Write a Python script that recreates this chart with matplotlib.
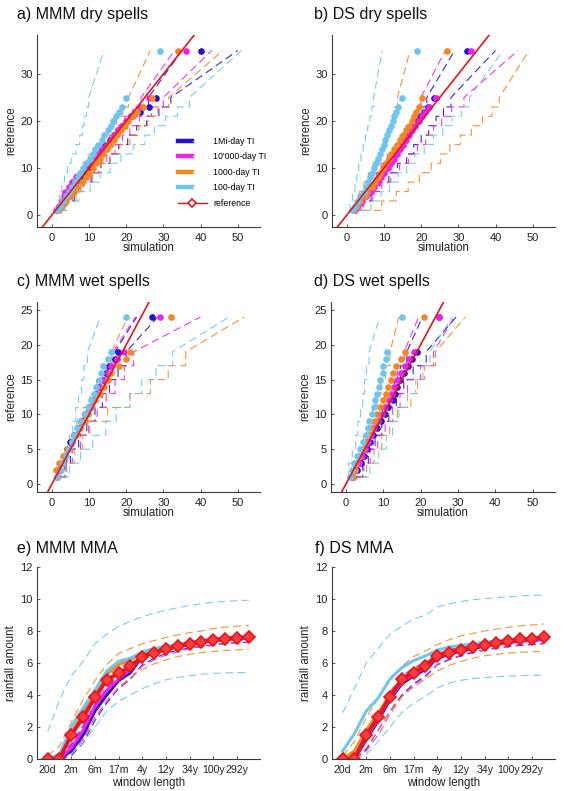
import matplotlib.pyplot as plt
from matplotlib.lines import Line2D
from matplotlib.legend_handler import HandlerTuple

plt.rcParams['font.family'] = ['Liberation Sans', 'DejaVu Sans']

# colours of the four time-integration runs + reference
col = {'1mi': '#2410d2', '10k': '#f021ee', '1k': '#f5871f', '100': '#6cc6f0'}
red = '#e4161c'
order = ['1mi', '10k', '1k', '100']
names = {'1mi': '1Mi-day TI', '10k': "10'000-day TI", '1k': '1000-day TI', '100': '100-day TI'}

# ---------------- spell-length quantiles (reference levels) ----------------
dry_levels = list(range(1, 24)) + [25, 35]
dry_bnd_levels = [1, 3, 5, 7, 9, 11, 13, 15, 17, 19, 21, 23, 25, 35]
wet_levels = list(range(1, 20)) + [24]
wet_bnd_levels = [1, 3, 5, 7, 9, 11, 13, 15, 17, 19, 24]

# a) MMM dry spells: simulated quantiles
a_sim = {
    '1mi': [1.5, 2.4, 3.3, 4.2, 4.9, 5.6, 6.6, 7.6, 8.6, 9.6, 10.6, 11.6, 12.6, 13.6, 14.6, 15.6, 16.7, 17.8, 19.0, 20.2, 21.4, 23.8, 26.0, 28.0, 40.0],
    '10k': [1.2, 2.0, 2.8, 3.2, 3.6, 4.6, 5.4, 6.6, 7.8, 9.0, 10.2, 11.4, 12.6, 13.7, 14.8, 15.8, 16.8, 17.8, 19.0, 20.0, 21.2, 22.4, 23.6, 26.0, 36.0],
    '1k': [1.8, 2.8, 3.9, 5.0, 6.0, 7.0, 8.2, 9.1, 10.0, 11.0, 12.0, 12.9, 13.8, 14.8, 15.7, 16.6, 17.5, 18.6, 19.6, 20.6, 21.8, 22.8, 24.5, 27.0, 34.0],
    '100': [1.3, 2.1, 2.9, 3.8, 4.6, 5.3, 6.1, 7.0, 7.7, 8.5, 9.3, 10.2, 11.0, 11.7, 12.5, 13.4, 14.1, 15.0, 15.8, 16.5, 17.2, 18.0, 18.8, 20.0, 29.0],
}
a_lo = {
    '1mi': [1, 2.5, 4, 6, 8, 10, 12, 14, 16.2, 18.4, 20.6, 23, 26, 35],
    '10k': [1, 2.4, 3.8, 5.7, 7.5, 9.5, 11.5, 13.5, 15.5, 17.5, 19.6, 21.8, 24, 33],
    '1k': [1, 2.2, 3.5, 4.9, 6.3, 8, 10, 12, 13.9, 15.6, 17.4, 19.1, 20.6, 26.5],
    '100': [0.8, 1.4, 2.0, 2.7, 3.4, 4.2, 5.2, 6.5, 7.5, 8.2, 8.7, 9.3, 9.9, 14],
}
a_hi = {
    '1mi': [1.5, 3.8, 6, 8.4, 10.8, 13.2, 15.6, 18, 20.4, 22.8, 25.5, 28.8, 32, 50],
    '10k': [1.5, 3.5, 5.5, 7.9, 10.3, 12.6, 14.8, 17, 19, 21, 23.6, 26.8, 30, 43],
    '1k': [2, 4.2, 6.5, 8.7, 10.9, 13.2, 15.6, 18.3, 21, 23.4, 25.8, 28.5, 31.4, 46],
    '100': [2, 4, 7.3, 10.3, 13, 15.7, 18.6, 21.9, 25, 27.6, 30.6, 33.8, 37, 51],
}

# b) DS dry spells
b_sim = {
    '1mi': [2.0, 2.8, 3.8, 5.0, 6.2, 7.0, 8.0, 8.8, 9.6, 10.6, 11.5, 12.4, 13.2, 14.0, 14.9, 15.7, 16.5, 17.3, 18.1, 19.0, 19.8, 20.7, 21.7, 23.4, 32.2],
    '10k': [2.2, 3.0, 4.0, 5.2, 6.5, 7.3, 8.3, 9.2, 10.0, 11.0, 11.8, 12.7, 13.5, 14.3, 15.2, 16.0, 16.8, 17.6, 18.4, 19.3, 20.1, 21.0, 22.0, 24.1, 33.5],
    '1k': [2.0, 2.8, 3.6, 4.8, 5.5, 6.8, 7.5, 8.3, 9.0, 9.8, 10.6, 11.3, 12.0, 12.8, 13.6, 14.3, 15.0, 15.8, 16.6, 17.4, 18.0, 18.7, 19.5, 20.2, 27.0],
    '100': [1.5, 2.2, 3.0, 3.6, 4.6, 5.2, 5.8, 6.3, 6.8, 7.3, 7.8, 8.4, 9.0, 9.5, 9.9, 10.3, 10.8, 11.3, 11.8, 12.3, 12.6, 13.1, 13.8, 14.8, 19.0],
}
b_lo = {
    '1mi': [1, 2.7, 4.5, 6.3, 8.1, 9.8, 11.7, 13.5, 15.0, 16.7, 18.3, 20, 21.5, 29],
    '10k': [1, 2.5, 4, 5.7, 7.4, 9.2, 10.9, 12.6, 14.3, 15.9, 17.6, 18.8, 19.9, 26.5],
    '1k': [1, 2.1, 3.4, 4.6, 5.8, 7.0, 8.2, 9.4, 10.3, 11.1, 12.0, 12.8, 13.6, 17],
    '100': [0.5, 0.9, 1.5, 2.2, 2.7, 3.2, 3.8, 4.4, 5.0, 5.6, 6.2, 6.7, 7.2, 9.5],
}
b_hi = {
    '1mi': [2, 4.3, 6.5, 8.9, 11.3, 13.6, 16.1, 18, 20, 22, 24, 26, 28, 40],
    '10k': [2, 4.5, 7, 9.4, 11.8, 14.2, 16.6, 19, 21.2, 23.3, 25.5, 28.2, 31.5, 46],
    '1k': [4, 9.4, 13.3, 16.5, 19.5, 22.7, 25.2, 27.7, 30.5, 33.5, 36.5, 39, 41, 49],
    '100': [3, 6.5, 9.2, 11.5, 13.8, 16.1, 18.3, 20.8, 23.3, 25.8, 28.3, 30.8, 33, 42],
}

# c) MMM wet spells
c_sim = {
    '1mi': [1.4, 2.2, 3.0, 3.5, 4.0, 5.0, 6.0, 7.0, 8.0, 9.0, 10.0, 11.0, 12.0, 12.8, 13.8, 14.6, 15.5, 16.9, 17.8, 27.0],
    '10k': [1.3, 2.0, 2.8, 3.6, 4.5, 5.3, 6.2, 7.0, 8.0, 9.0, 10.0, 11.0, 12.0, 13.0, 14.0, 15.0, 16.0, 17.5, 19.5, 29.0],
    '1k': [1.5, 1.0, 2.0, 3.0, 4.0, 5.5, 6.5, 7.5, 8.8, 9.8, 10.5, 11.5, 13.0, 14.0, 15.0, 15.8, 18.0, 20.0, 21.0, 32.0],
    '100': [1.5, 2.5, 3.0, 3.8, 4.6, 5.3, 6.0, 6.8, 7.6, 8.8, 9.8, 10.5, 11.3, 12.0, 12.6, 13.2, 13.8, 15.0, 16.0, 20.0],
}
c_lo = {
    '1mi': [0.8, 2.4, 4, 5.8, 7.6, 9.4, 11.2, 13, 15, 17, 22.8],
    '10k': [0.8, 2.4, 4, 5.8, 7.6, 9.4, 11.2, 13, 14.8, 16.5, 22.5],
    '1k': [0.5, 2.0, 3.5, 5.1, 6.7, 8.4, 10.2, 12.0, 14.3, 16.1, 20.4],
    '100': [0.8, 1.5, 3.2, 4.7, 5.6, 6.4, 7.2, 8.0, 8.6, 9.6, 13],
}
c_hi = {
    '1mi': [2, 3.5, 5, 7.2, 9.4, 11.6, 13.6, 15.5, 17.8, 20, 28.5],
    '10k': [2, 3.8, 5.5, 7.7, 9.9, 12.2, 14.6, 17, 19.5, 22, 40],
    '1k': [2, 4, 6, 8.2, 10.2, 15, 21, 26.5, 31.3, 36, 51.8],
    '100': [2.5, 4.8, 7.7, 11, 14.5, 17.3, 21, 24.2, 28, 32.5, 47.7],
}

# d) DS wet spells
d_sim = {
    '1mi': [2.0, 3.0, 4.0, 4.9, 5.6, 6.4, 7.2, 8.2, 9.3, 10.5, 11.3, 12.5, 13.2, 13.8, 14.6, 15.5, 16.5, 17.8, 19.1, 25.0],
    '10k': [1.6, 2.5, 3.4, 4.3, 5.0, 5.9, 6.7, 7.6, 8.6, 9.6, 10.5, 11.6, 12.3, 13.0, 13.8, 14.8, 15.8, 17.0, 18.3, 25.0],
    '1k': [2.0, 2.3, 2.8, 3.6, 4.5, 5.2, 6.1, 6.8, 7.7, 8.3, 9.2, 9.8, 10.7, 11.3, 12.0, 12.7, 13.5, 14.8, 15.8, 21.0],
    '100': [1.0, 1.5, 2.2, 3.0, 3.8, 4.6, 5.3, 6.0, 6.3, 7.0, 7.4, 7.8, 8.3, 8.8, 9.2, 9.8, 10.0, 10.8, 11.0, 15.0],
}
d_lo = {
    '1mi': [1, 2.8, 4.5, 6.3, 8.1, 9.8, 11.4, 13, 14.6, 16.3, 20.5],
    '10k': [1, 2.5, 4, 5.6, 7.2, 8.8, 10.4, 12, 13.8, 15.6, 19.5],
    '1k': [0.8, 2.1, 3.5, 4.7, 5.9, 7.1, 8.3, 9.5, 10.6, 11.8, 14.2],
    '100': [0.3, 0.7, 1.7, 2.6, 3.2, 3.9, 4.5, 5.0, 5.5, 6.2, 9],
}
d_hi = {
    '1mi': [3, 4.5, 6, 7.8, 9.6, 11.5, 13.5, 15.5, 18, 21.5, 29.5],
    '10k': [3, 4.8, 6.5, 8.5, 10.5, 12.5, 14.5, 16.5, 20, 23.5, 29],
    '1k': [3.5, 5.5, 7.5, 9.6, 11.7, 13.8, 17.4, 19.2, 21, 24, 32],
    '100': [4, 6.4, 8.8, 10.8, 12.5, 14.2, 16.5, 18.7, 20.6, 22.5, 28.5],
}

# ---------------- maximum moving average (MMA) ----------------
window_ticks = ['20d', '2m', '6m', '17m', '4y', '12y', '34y', '100y', '292y']

e_ref = [0, 0, 1.5, 2.6, 3.85, 4.95, 5.35, 5.8, 6.4, 6.65, 6.85, 7.05, 7.2, 7.32, 7.42, 7.5, 7.55, 7.6]
e_mean = {
    '1mi': [0, 0, 0.5, 1.5, 3.0, 4.0, 4.9, 5.4, 6.4, 6.7, 6.9, 7.05, 7.2, 7.3, 7.4, 7.45, 7.5, 7.55],
    '10k': [0, 0, 0.7, 1.8, 3.3, 4.3, 5.0, 5.6, 6.4, 6.7, 6.9, 7.05, 7.2, 7.3, 7.4, 7.48, 7.52, 7.55],
    '1k': [0, 0.1, 1.6, 2.9, 4.2, 5.3, 5.9, 6.2, 6.6, 6.8, 6.95, 7.1, 7.2, 7.3, 7.4, 7.45, 7.5, 7.55],
    '100': [0, 0.3, 2.0, 3.2, 4.3, 5.5, 6.1, 6.3, 6.7, 6.9, 7.05, 7.15, 7.25, 7.35, 7.42, 7.48, 7.52, 7.55],
}
e_lo = {
    '1mi': [0, 0, 0.2, 1.0, 2.4, 3.5, 4.4, 5.0, 5.9, 6.3, 6.6, 6.8, 6.95, 7.05, 7.15, 7.22, 7.28, 7.3],
    '10k': [0, 0, 0.3, 1.2, 2.6, 3.6, 4.4, 5.0, 5.8, 6.2, 6.5, 6.7, 6.9, 7.0, 7.1, 7.2, 7.25, 7.3],
    '1k': [0, 0, 0.3, 1.3, 2.6, 3.7, 4.5, 5.1, 5.6, 5.95, 6.2, 6.4, 6.55, 6.65, 6.72, 6.78, 6.82, 6.85],
    '100': [0, 0, 0.3, 1.0, 2.0, 3.0, 3.6, 4.0, 4.4, 4.7, 4.95, 5.1, 5.2, 5.3, 5.35, 5.38, 5.4, 5.4],
}
e_hi = {
    '1mi': [0, 0.1, 0.9, 2.0, 3.4, 4.4, 5.2, 5.7, 6.5, 6.8, 7.0, 7.15, 7.3, 7.4, 7.5, 7.55, 7.6, 7.65],
    '10k': [0, 0.1, 1.0, 2.1, 3.5, 4.6, 5.3, 5.8, 6.5, 6.8, 7.0, 7.2, 7.35, 7.45, 7.55, 7.62, 7.68, 7.7],
    '1k': [0.2, 0.8, 2.3, 3.7, 4.9, 5.9, 6.6, 6.9, 7.2, 7.4, 7.6, 7.75, 7.9, 8.0, 8.15, 8.25, 8.3, 8.35],
    '100': [1.7, 3.7, 5.2, 6.1, 7.2, 7.8, 8.3, 8.6, 8.9, 9.1, 9.3, 9.45, 9.6, 9.7, 9.8, 9.85, 9.9, 9.92],
}

f_ref = [0, 0, 1.5, 2.6, 3.9, 5.0, 5.4, 5.8, 6.45, 6.65, 6.83, 6.97, 7.15, 7.28, 7.38, 7.47, 7.53, 7.6]
f_mean = {
    '1mi': [0, 0, 1.2, 2.4, 3.7, 4.7, 5.2, 5.6, 6.3, 6.55, 6.75, 6.9, 7.05, 7.18, 7.28, 7.36, 7.42, 7.46],
    '10k': [0, 0, 1.3, 2.5, 3.8, 4.8, 5.3, 5.7, 6.35, 6.6, 6.8, 6.95, 7.1, 7.22, 7.32, 7.4, 7.45, 7.48],
    '1k': [0, 0.5, 1.8, 2.9, 4.0, 5.0, 5.5, 5.9, 6.5, 6.7, 6.85, 7.0, 7.15, 7.28, 7.38, 7.46, 7.52, 7.56],
    '100': [0.5, 1.6, 3.0, 3.8, 5.0, 5.7, 6.15, 6.45, 6.8, 7.0, 7.1, 7.2, 7.3, 7.38, 7.45, 7.5, 7.53, 7.55],
}
f_lo = {
    '1mi': [0, 0, 0.6, 1.8, 3.0, 4.0, 4.7, 5.2, 5.9, 6.2, 6.45, 6.65, 6.8, 6.92, 7.02, 7.1, 7.15, 7.2],
    '10k': [0, 0, 0.5, 1.5, 2.8, 3.9, 4.6, 5.1, 5.9, 6.25, 6.5, 6.7, 6.85, 6.98, 7.08, 7.15, 7.2, 7.23],
    '1k': [0, 0, 0.7, 1.8, 3.0, 3.9, 4.5, 5.0, 5.5, 5.85, 6.1, 6.3, 6.45, 6.55, 6.62, 6.67, 6.7, 6.72],
    '100': [0, 0, 0.3, 1.1, 2.0, 2.9, 3.5, 3.9, 4.45, 4.75, 4.92, 5.02, 5.09, 5.14, 5.18, 5.21, 5.23, 5.24],
}
f_hi = {
    '1mi': [0, 0.1, 1.5, 2.8, 4.1, 5.1, 5.6, 6.0, 6.55, 6.8, 6.95, 7.1, 7.22, 7.32, 7.42, 7.48, 7.52, 7.55],
    '10k': [0, 0.2, 1.6, 2.9, 4.2, 5.2, 5.7, 6.0, 6.6, 6.85, 7.0, 7.15, 7.28, 7.38, 7.46, 7.52, 7.56, 7.6],
    '1k': [0.2, 1.1, 2.6, 3.8, 5.0, 5.8, 6.4, 6.75, 7.15, 7.45, 7.7, 7.85, 8.0, 8.12, 8.23, 8.32, 8.38, 8.44],
    '100': [2.9, 4.4, 6.0, 6.9, 7.8, 8.3, 8.75, 9.0, 9.5, 9.7, 9.85, 9.95, 10.02, 10.08, 10.14, 10.2, 10.23, 10.25],
}

dash = (0, (7, 4))


def stairs(sim, ref):
    # quantile bounds are flat within one reference level, then jump up
    xs, ys = [sim[0]], [ref[0]]
    for i in range(1, len(ref)):
        if ref[i] - ref[i - 1] <= 2:
            xs.append(sim[i])
            ys.append(ref[i - 1])
        xs.append(sim[i])
        ys.append(ref[i])
    return xs, ys


def style(ax, xlabel, ylabel, xlab_y, xtick_size=8):
    for s in ['top', 'right']:
        ax.spines[s].set_visible(False)
    for s in ['left', 'bottom']:
        ax.spines[s].set_color('#3a3a3a')
        ax.spines[s].set_linewidth(0.8)
    ax.tick_params(direction='in', length=2.5, width=0.6, labelsize=8,
                   colors='#3a3a3a', labelcolor='#222222')
    ax.tick_params(axis='x', pad=4, labelsize=xtick_size)
    ax.tick_params(axis='y', pad=3)
    ax.set_xlabel(xlabel, fontsize=8.3, color='#222222')
    ax.set_ylabel(ylabel, fontsize=8.3, color='#222222')
    ax.xaxis.set_label_coords(0.5, xlab_y)
    ax.yaxis.set_label_coords(-0.088, 0.5)


def spell_panel(ax, levels, sims, bnd_levels, lo, hi, ylim, yticks, xlab_y):
    for k in order:
        for b in (lo[k], hi[k]):
            xs, ys = stairs(b, bnd_levels)
            ax.plot(xs, ys, ls=dash, lw=0.8, color=col[k], alpha=0.9)
    for k in order:
        ax.plot(sims[k], levels, 'o', ms=4.8, color=col[k], mec='none')
    ax.axline((0, 0), slope=1, color=red, lw=1.2)
    ax.set_xlim(-4, 56)
    ax.set_ylim(*ylim)
    ax.set_xticks([0, 10, 20, 30, 40, 50])
    ax.set_yticks(yticks)
    style(ax, 'simulation', 'reference', xlab_y)


def mma_panel(ax, ref, mean, lo, hi):
    x = list(range(len(ref)))
    for k in order:
        ax.plot(x, lo[k], ls=dash, lw=0.8, color=col[k], alpha=0.9)
        ax.plot(x, hi[k], ls=dash, lw=0.8, color=col[k], alpha=0.9)
    for k in order:
        ax.plot(x, mean[k], '-', lw=2.2, color=col[k])
    ax.plot(x, ref, '-D', lw=2.8, ms=6.3, color=red, mfc='#ff3c3c', mec=red, mew=1.2)
    ax.set_xlim(-0.9, 17.95)
    ax.set_ylim(0, 12)
    ax.set_xticks(x[::2])
    ax.set_xticklabels(window_ticks)
    ax.set_yticks([0, 2, 4, 6, 8, 10, 12])
    style(ax, 'window length', 'rainfall amount', -0.094, xtick_size=7.6)


W, H = 564, 791
fig = plt.figure(figsize=(W / 100, H / 100), dpi=100)


def add_ax(left, top, right, bottom):
    return fig.add_axes([left / W, 1 - bottom / H, (right - left) / W, (bottom - top) / H])


ax_a = add_ax(37, 35, 260, 227)
ax_b = add_ax(332, 35, 555, 227)
ax_c = add_ax(37, 302, 260, 492)
ax_d = add_ax(331, 302, 555, 492)
ax_e = add_ax(37, 567, 260, 759)
ax_f = add_ax(332, 567, 555, 759)

spell_panel(ax_a, dry_levels, a_sim, dry_bnd_levels, a_lo, a_hi, (-2.55, 38.3), [0, 10, 20, 30], -0.08)
spell_panel(ax_b, dry_levels, b_sim, dry_bnd_levels, b_lo, b_hi, (-2.55, 38.3), [0, 10, 20, 30], -0.08)
spell_panel(ax_c, wet_levels, c_sim, wet_bnd_levels, c_lo, c_hi, (-1.15, 26.15), [0, 5, 10, 15, 20, 25], -0.08)
spell_panel(ax_d, wet_levels, d_sim, wet_bnd_levels, d_lo, d_hi, (-1.15, 26.15), [0, 5, 10, 15, 20, 25], -0.08)
mma_panel(ax_e, e_ref, e_mean, e_lo, e_hi)
mma_panel(ax_f, f_ref, f_mean, f_lo, f_hi)

# panel titles
titles = [('a) MMM dry spells', 17, 19), ('b) DS dry spells', 314, 19),
          ('c) MMM wet spells', 17, 286), ('d) DS wet spells', 314, 286),
          ('e) MMM MMA', 17, 553), ('f) DS MMA', 315, 553)]
for t, px, py in titles:
    fig.text(px / W, 1 - py / H, t, fontsize=11.5, va='baseline', ha='left', color='#111111')

# legend in panel a
handles = []
for k in order:
    thick = Line2D([], [], color=col[k], lw=3.2)
    thin = Line2D([], [], color='white', lw=0.6, ls=(0, (3, 2)), alpha=0.7)
    handles.append((thick, thin))
handles.append(Line2D([], [], color=red, lw=1, marker='D', ms=4.5, mfc='white', mec=red, mew=1.2))
labels = [names[k] for k in order] + ['reference']
ax_a.legend(handles, labels, handler_map={tuple: HandlerTuple(ndivide=None)},
            loc='upper left', bbox_to_anchor=(0.632, 0.47), frameon=False,
            fontsize=6.3, handlelength=3.3, handletextpad=0.7, labelspacing=0.75,
            borderpad=0, borderaxespad=0)

fig.savefig('out.png', dpi=100)
